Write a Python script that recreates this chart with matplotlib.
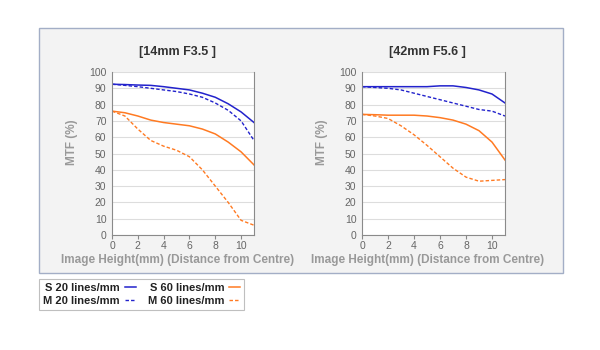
import matplotlib.pyplot as plt
import numpy as np
from matplotlib.patches import Rectangle

plt.rcParams["font.family"] = ["Liberation Sans", "DejaVu Sans"]

# Image height (mm) sample positions
x = [0, 1, 2, 3, 4, 5, 6, 7, 8, 9, 10, 11]

# 14mm F3.5
wide_s20 = [92.5, 92.3, 92, 91.8, 91, 90, 89, 87, 84.5, 80.5, 75.5, 69]
wide_m20 = [92.5, 91.8, 91, 90, 89, 88, 86.5, 84.5, 81, 76.5, 70, 58]
wide_s60 = [76, 75, 73, 70.5, 69, 68, 67, 65, 62, 57, 51, 43]
wide_m60 = [76, 73, 65, 58, 54.5, 52, 48, 40, 30, 20, 9, 6]

# 42mm F5.6
tele_s20 = [91, 91, 91, 91, 91, 91, 91.5, 91.5, 90.5, 89, 86.5, 81]
tele_m20 = [91, 90.5, 90, 89, 87, 85, 83, 81, 79, 77, 76, 73]
tele_s60 = [74, 73.8, 73.5, 73.5, 73.5, 73, 72, 70.5, 68, 64, 57, 46]
tele_m60 = [74, 73, 71.5, 67, 61.5, 55, 48, 41, 35.5, 33, 33.5, 34]

titles = ["[14mm F3.5 ]", "[42mm F5.6 ]"]
legend_labels = ["S 20 lines/mm", "M 20 lines/mm", "S 60 lines/mm", "M 60 lines/mm"]

blue = "#2222cc"
orange = "#ff7a22"

fig = plt.figure(figsize=(6, 3.5), dpi=100)
fig.patch.set_facecolor("white")

# outer panel
fig.patches.append(Rectangle((39 / 600, 1 - 273 / 350), 524 / 600, 245 / 350,
                             transform=fig.transFigure, facecolor="#f3f3f3",
                             edgecolor="#a3aec6", linewidth=1.0, zorder=-5))

positions = [[112 / 600, 1 - 235 / 350, 142 / 600, 163 / 350],
             [362 / 600, 1 - 235 / 350, 143 / 600, 163 / 350]]
series = [(wide_s20, wide_m20, wide_s60, wide_m60),
          (tele_s20, tele_m20, tele_s60, tele_m60)]

handles = []
for pos, title, (s20, m20, s60, m60) in zip(positions, titles, series):
    ax = fig.add_axes(pos)
    ax.set_facecolor("white")
    h1, = ax.plot(x, s20, color=blue, lw=1.1)
    h2, = ax.plot(x, m20, color=blue, lw=1.0, dashes=(2.5, 1.5))
    h3, = ax.plot(x, s60, color=orange, lw=1.1)
    h4, = ax.plot(x, m60, color=orange, lw=1.0, dashes=(2.5, 1.5))
    handles = [h1, h2, h3, h4]

    ax.set_xlim(0, 11)
    ax.set_ylim(0, 100)
    ax.set_xticks(np.arange(0, 11, 2))
    ax.set_yticks(np.arange(0, 101, 10))
    ax.grid(axis="y", color="#dddddd", lw=0.8)
    ax.set_axisbelow(True)
    ax.tick_params(axis="x", length=3, width=0.8, color="#888888",
                   labelsize=7.5, labelcolor="#666666", pad=1.5)
    ax.tick_params(axis="y", length=0, labelsize=7.5, labelcolor="#666666", pad=4)
    for side in ["left", "bottom", "right"]:
        ax.spines[side].set_color("#8a8a8a")
        ax.spines[side].set_linewidth(0.8)
    ax.spines["top"].set_visible(False)

    ax.text(0.46, 1.125, title, transform=ax.transAxes, ha="center", va="center",
            fontsize=9, fontweight="bold", color="#333333")
    ax.set_xlabel("Image Height(mm) (Distance from Centre)", fontsize=8.5,
                  fontweight="bold", color="#999999")
    ax.xaxis.set_label_coords(0.46, -0.115)
    ax.set_ylabel("MTF (%)", fontsize=8.5, fontweight="bold", color="#999999")
    ax.yaxis.set_label_coords(-0.24, 0.57)

leg = fig.legend(handles, legend_labels, ncol=2, markerfirst=False,
                 loc="upper left", bbox_to_anchor=(39 / 600, 1 - 279 / 350),
                 frameon=True, fancybox=False, fontsize=8, handlelength=1.0,
                 handletextpad=0.45, columnspacing=1.1, labelspacing=0.25,
                 borderpad=0.35, borderaxespad=0)
leg.get_frame().set_edgecolor("#b0b0b0")
leg.get_frame().set_linewidth(0.8)
for t in leg.get_texts():
    t.set_fontweight("bold")
    t.set_color("#222222")
    t.set_ha("right")

fig.savefig("out.png", dpi=100)
